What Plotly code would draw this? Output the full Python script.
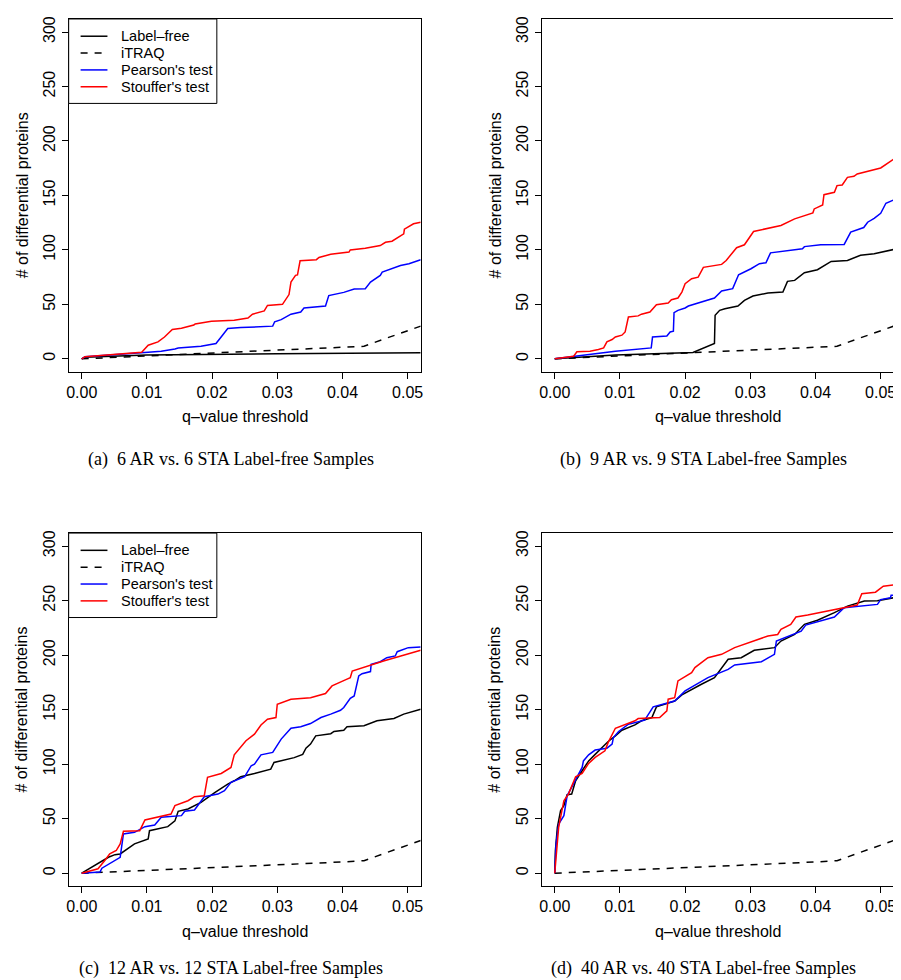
import plotly.graph_objects as go

# ---------------- data ----------------
series_names = ["Label–free", "iTRAQ", "Pearson's test", "Stouffer's test"]
captions = ["(a)\u00a0 6 AR vs. 6 STA Label-free Samples",
            "(b)\u00a0 9 AR vs. 9 STA Label-free Samples",
            "(c)\u00a0 12 AR vs. 12 STA Label-free Samples",
            "(d)\u00a0 40 AR vs. 40 STA Label-free Samples"]
x_ticks = [0, 0.01, 0.02, 0.03, 0.04, 0.05]
x_ticktext = ["0.00", "0.01", "0.02", "0.03", "0.04", "0.05"]
y_ticks = [0, 50, 100, 150, 200, 250, 300]

itraq_q = [0, 0.01, 0.02, 0.03, 0.04, 0.0433, 0.0463, 0.052]
itraq_n = [0, 2.5, 5.5, 7.8, 10.3, 11.5, 18, 30]

# panel (a)
a_lf_q = [0, 0.0005, 0.01, 0.02, 0.03, 0.052]
a_lf_n = [0, 1.5, 3.4, 4.2, 4.6, 5.5]
a_pe_q = [0, 0.0005, 0.0102, 0.0122, 0.0143, 0.0148, 0.0183, 0.0206, 0.0216, 0.0224,
          0.0244, 0.0293, 0.0296, 0.0306, 0.0321, 0.0336, 0.0341, 0.0374, 0.0379, 0.0402,
          0.0418, 0.0435, 0.0443, 0.0453, 0.0458, 0.0461, 0.0474, 0.0489, 0.0502, 0.052]
a_pe_n = [0, 2, 6, 7, 9, 10, 11.6, 14, 21.7, 27.8,
          28.7, 30, 34, 36, 41, 43, 46.7, 48.5, 58, 61,
          64, 64.4, 70.5, 75, 76.6, 79.6, 82.7, 85.7, 87.3, 91]
a_st_q = [0, 0.0005, 0.0092, 0.0102, 0.0117, 0.0127, 0.0139, 0.0153, 0.0172, 0.0174,
          0.0199, 0.0234, 0.0255, 0.0262, 0.028, 0.0285, 0.0308, 0.0318, 0.0321, 0.0328,
          0.0331, 0.0335, 0.036, 0.0364, 0.0382, 0.041, 0.0412, 0.0435, 0.0458, 0.0466,
          0.0476, 0.0494, 0.0495, 0.0509, 0.052]
a_st_n = [0, 2, 6, 12.5, 15.5, 20, 27, 28, 31, 32,
          34.5, 35.5, 37.5, 41, 44, 49, 50, 59, 70.5, 76.6,
          77, 90, 91, 93, 96, 98, 100, 101.6, 104, 107,
          108, 114.7, 119, 124, 125.4]

# panel (b)
b_lf_q = [0, 0.0093, 0.0212, 0.0245, 0.0246, 0.0253, 0.0261, 0.0281, 0.0291, 0.0304,
          0.0327, 0.035, 0.0357, 0.0368, 0.0383, 0.0403, 0.0424, 0.0449, 0.0469, 0.049, 0.052]
b_lf_n = [0, 3.4, 5.8, 14, 40, 44.5, 46, 48.5, 53.7, 57.7,
          60.4, 61.3, 71.1, 72, 79, 81.8, 89.4, 90.3, 95, 96.4, 100.4]
b_pe_q = [0, 0.0072, 0.0093, 0.0148, 0.015, 0.0172, 0.0177, 0.0182, 0.0183, 0.0189,
          0.02, 0.0205, 0.0245, 0.0256, 0.0273, 0.0282, 0.0291, 0.0301, 0.0314, 0.0324,
          0.0331, 0.038, 0.0383, 0.0408, 0.0444, 0.0454, 0.0474, 0.048, 0.049, 0.05,
          0.0508, 0.052]
b_pe_n = [0, 4.9, 7, 10, 20, 21, 24.7, 25.3, 42.4, 44.5,
          46.7, 48.5, 55.8, 62.3, 64.4, 77.2, 79.6, 82.7, 87.3, 88.2,
          97.3, 101, 103, 104.7, 105, 116.3, 120.5, 125.4, 129, 133.6,
          142.8, 145.9]
b_st_q = [0, 0.0029, 0.0034, 0.0054, 0.0067, 0.0075, 0.008, 0.0088, 0.0093, 0.0103,
          0.0108, 0.0113, 0.0128, 0.0133, 0.0146, 0.0156, 0.0174, 0.0179, 0.0189, 0.0195,
          0.02, 0.021, 0.022, 0.0224, 0.0228, 0.0256, 0.0263, 0.0279, 0.0291, 0.0305,
          0.0322, 0.0347, 0.0368, 0.0383, 0.0396, 0.0398, 0.0411, 0.0413, 0.0429, 0.0433,
          0.0441, 0.0449, 0.0459, 0.0464, 0.05, 0.052]
b_st_n = [0, 2.4, 6.4, 7, 8.5, 10, 15.6, 17.7, 20, 21.7,
          24.7, 38.4, 39.4, 41, 43, 49.7, 51.3, 54.3, 55.8, 61.3,
          69, 73.5, 75, 79.6, 84, 86.7, 90.3, 102, 104.7, 116.9,
          119.3, 122.4, 128.5, 131.5, 134, 137.6, 141.3, 150.7, 152.9, 159,
          159.6, 166.6, 167.5, 169.7, 175.2, 183.4]

# panel (c)
c_lf_q = [0, 0.0041, 0.0051, 0.0059, 0.0081, 0.0102, 0.0104, 0.0117, 0.0132, 0.0143,
          0.0148, 0.0163, 0.0183, 0.0204, 0.0224, 0.0234, 0.0244, 0.0265, 0.029, 0.0295,
          0.0316, 0.0326, 0.0339, 0.0344, 0.0351, 0.0359, 0.0382, 0.0387, 0.0402, 0.0407,
          0.0433, 0.0453, 0.0479, 0.0494, 0.052]
c_lf_n = [0, 14.6, 17, 17.7, 26.9, 31.4, 39, 40.6, 42.7, 48,
          56.8, 58.9, 65, 74, 81.8, 84.8, 88.5, 91.5, 95.5, 101.6,
          104.7, 106, 109, 114.7, 118.4, 126, 128, 130, 131.2, 134.3,
          135.2, 139.8, 141.9, 145.9, 150.4]
c_pe_q = [0, 0.0028, 0.0031, 0.0041, 0.0059, 0.0064, 0.0081, 0.0097, 0.0112, 0.0122,
          0.0153, 0.0158, 0.0173, 0.0188, 0.0209, 0.0219, 0.0229, 0.025, 0.026, 0.0265,
          0.0275, 0.0293, 0.0306, 0.0321, 0.0336, 0.0351, 0.0367, 0.0382, 0.0397, 0.0402,
          0.0412, 0.0418, 0.0425, 0.043, 0.0443, 0.0444, 0.0458, 0.0468, 0.0481, 0.0484,
          0.0501, 0.052]
c_pe_n = [0, 1, 4.6, 7.9, 14.6, 36, 37.5, 42.7, 44.2, 51.3,
          52.8, 56.8, 58, 70.2, 72.6, 75.7, 83.3, 88.5, 98.6, 100,
          108.6, 110.8, 123, 133, 134.3, 137.3, 142.8, 145.9, 149.5, 152,
          160.5, 162.6, 181, 183, 185, 191.6, 194, 197.7, 199.3, 203.2,
          206.9, 207.5]
c_st_q = [0, 0.0025, 0.0036, 0.0043, 0.0053, 0.0059, 0.0064, 0.0089, 0.0097, 0.0117,
          0.0137, 0.0143, 0.0163, 0.0173, 0.0188, 0.0193, 0.0214, 0.0229, 0.0234, 0.0252,
          0.0265, 0.0275, 0.0285, 0.0298, 0.03, 0.0321, 0.0351, 0.0374, 0.0384, 0.0407,
          0.0412, 0.0415, 0.0438, 0.0463, 0.052]
c_st_n = [0, 4, 12.2, 17.7, 20.8, 26.9, 38.4, 39, 48.8, 51.3,
          54.3, 62, 66.5, 70.2, 71.1, 88, 91.5, 97, 108.6, 121.5,
          127.6, 136, 141.3, 142.8, 155, 159.6, 161, 164.8, 171.8, 178,
          179.4, 185.5, 190, 194.7, 204.5]

# panel (d)
d_lf_q = [0, 0.0001, 0.0004, 0.0009, 0.0014, 0.0019, 0.0026, 0.0032, 0.0042, 0.0052,
          0.0062, 0.0072, 0.0082, 0.0093, 0.0103, 0.0123, 0.0133, 0.0149, 0.0156, 0.0184,
          0.0195, 0.0225, 0.0245, 0.0266, 0.0286, 0.0306, 0.0337, 0.0347, 0.0368, 0.0383,
          0.0403, 0.0429, 0.0449, 0.0475, 0.0495, 0.052]
d_lf_n = [0, 20.8, 42, 57.4, 62, 72, 72.6, 84.8, 94, 103,
          109, 115.3, 120.8, 126, 131.2, 136, 139.8, 142.8, 152.6, 158,
          163.6, 173.3, 179.4, 196.2, 197.7, 204.5, 206.9, 213, 219, 228.3,
          232, 239, 245, 249.6, 250, 252.7]
d_pe_q = [0, 0.0002, 0.0006, 0.0014, 0.0019, 0.0032, 0.0042, 0.0044, 0.0052, 0.0062,
          0.008, 0.0088, 0.009, 0.0098, 0.0113, 0.0138, 0.0151, 0.0184, 0.02, 0.0235,
          0.0266, 0.0276, 0.0317, 0.0337, 0.034, 0.0378, 0.0385, 0.0429, 0.0444, 0.0495,
          0.05, 0.0515, 0.0516, 0.052]
d_pe_n = [0, 26.9, 45, 52.8, 71, 85.4, 97, 103, 108.6, 113,
          114.7, 118.4, 124.5, 130, 136.7, 140.4, 152.6, 158, 167.2, 179.4,
          187, 191, 194, 200.8, 213, 222, 227.6, 235, 243.5, 246.6,
          251, 252.7, 255, 255]
d_st_q = [0, 0.0003, 0.0006, 0.0014, 0.0021, 0.0032, 0.0042, 0.0052, 0.0062, 0.0077,
          0.0082, 0.0093, 0.0108, 0.0123, 0.0128, 0.0161, 0.0172, 0.0174, 0.0184, 0.0189,
          0.021, 0.0215, 0.0235, 0.0256, 0.0276, 0.0306, 0.0327, 0.0342, 0.0347, 0.0362,
          0.037, 0.0388, 0.0433, 0.0464, 0.0471, 0.0492, 0.0504, 0.052]
d_st_n = [0, 23.8, 42, 66.5, 72.6, 88.5, 91.5, 100.7, 106.2, 112.3,
          120, 133, 136.7, 139.8, 141.9, 142.8, 148.9, 159.6, 161, 176.4,
          184, 188.6, 197.7, 200.8, 206.9, 213, 217.6, 219, 223.7, 228.3,
          235, 236.8, 242, 246, 256.3, 257.8, 263.3, 264.5]

panels = [
    [(a_lf_q, a_lf_n), (itraq_q, itraq_n), (a_pe_q, a_pe_n), (a_st_q, a_st_n)],
    [(b_lf_q, b_lf_n), (itraq_q, itraq_n), (b_pe_q, b_pe_n), (b_st_q, b_st_n)],
    [(c_lf_q, c_lf_n), (itraq_q, itraq_n), (c_pe_q, c_pe_n), (c_st_q, c_st_n)],
    [(d_lf_q, d_lf_n), (itraq_q, itraq_n), (d_pe_q, d_pe_n), (d_st_q, d_st_n)],
]

# ---------------- styling / layout ----------------
VIEW_W, VIEW_H, BODY_MARGIN = 901, 980, 8
W, H = VIEW_W - BODY_MARGIN, VIEW_H - BODY_MARGIN
colors = ["black", "black", "#0000FF", "#FF0000"]
dashes = ["solid", "7px,7px", "solid", "solid"]
LW = 1.5
SANS = "Liberation Sans, Arial, sans-serif"
SERIF = "Liberation Serif, Times New Roman, serif"

# plot boxes in window pixels (left, right, top, bottom)
boxes = [(67, 421, 16, 370), (542.7, 896.7, 16, 370),
         (67, 421, 531.7, 886), (542.7, 896.7, 531.7, 886)]
caption_offset = [88, 88, 82, 82]
legend_panels = [0, 2]


def px(x):
    return (x - BODY_MARGIN) / W


def py(y):
    return 1 - (y - BODY_MARGIN) / H


fig = go.Figure()
for p, series in enumerate(panels):
    suffix = "" if p == 0 else str(p + 1)
    for s, (qs, ns) in enumerate(series):
        fig.add_trace(go.Scatter(
            x=qs, y=ns, mode="lines", name=series_names[s],
            line=dict(color=colors[s], width=LW, dash=dashes[s]),
            xaxis="x" + suffix, yaxis="y" + suffix,
            showlegend=False,
        ))

layout = dict(width=W, height=H, margin=dict(l=0, r=0, t=0, b=0),
              paper_bgcolor="white", plot_bgcolor="white", showlegend=False,
              font=dict(family=SANS, size=16, color="black"))

axis_common = dict(showline=True, mirror=True, linecolor="black", linewidth=1,
                   ticks="outside", ticklen=6, tickwidth=1, tickcolor="black",
                   showgrid=False, zeroline=False,
                   tickfont=dict(family=SANS, size=16, color="black"))

annotations = []
shapes = []
for p, (l, r, t, b) in enumerate(boxes):
    suffix = "" if p == 0 else str(p + 1)
    layout["xaxis" + suffix] = dict(
        axis_common, domain=[px(l), px(r)], range=[-0.002, 0.052],
        tickvals=x_ticks, ticktext=x_ticktext,
        anchor="y" + suffix)
    layout["yaxis" + suffix] = dict(
        axis_common, domain=[py(b), py(t)], range=[-12, 312],
        tickvals=y_ticks, tickangle=-90,
        anchor="x" + suffix)
    annotations.append(dict(text="q–value threshold", xref="paper", yref="paper",
                            x=px((l + r) / 2), y=py(b + 45), showarrow=False,
                            xanchor="center", yanchor="middle",
                            font=dict(family=SANS, size=16, color="black")))
    annotations.append(dict(text="# of differential proteins", xref="paper", yref="paper",
                            x=px(l - 47), y=py((t + b) / 2), showarrow=False,
                            textangle=-90, xanchor="center", yanchor="middle",
                            font=dict(family=SANS, size=16, color="black")))
    annotations.append(dict(text=captions[p], xref="paper", yref="paper",
                            x=px((l + r) / 2 - 14), y=py(b + caption_offset[p]),
                            showarrow=False, xanchor="center", yanchor="middle",
                            font=dict(family=SERIF, size=18, color="black")))

# R-style legend box (top-left of panels a and c)
for p in legend_panels:
    l, r, t, b = boxes[p]
    shapes.append(dict(type="rect", xref="paper", yref="paper",
                       x0=px(l), x1=px(l + 149), y0=py(t + 84.7), y1=py(t),
                       line=dict(color="black", width=1), fillcolor="white", layer="above"))
    for s, name in enumerate(series_names):
        yy = t + 17.3 + 16.9 * s
        shapes.append(dict(type="line", xref="paper", yref="paper",
                           x0=px(l + 12), x1=px(l + 39), y0=py(yy), y1=py(yy),
                           line=dict(color=colors[s], width=LW, dash=dashes[s]),
                           layer="above"))
        annotations.append(dict(text=name, xref="paper", yref="paper",
                                x=px(l + 51), y=py(yy), showarrow=False,
                                xanchor="left", yanchor="middle",
                                font=dict(family=SANS, size=14.5, color="black")))

layout["annotations"] = annotations
layout["shapes"] = shapes
fig.update_layout(**layout)
fig.write_html("out.html")
